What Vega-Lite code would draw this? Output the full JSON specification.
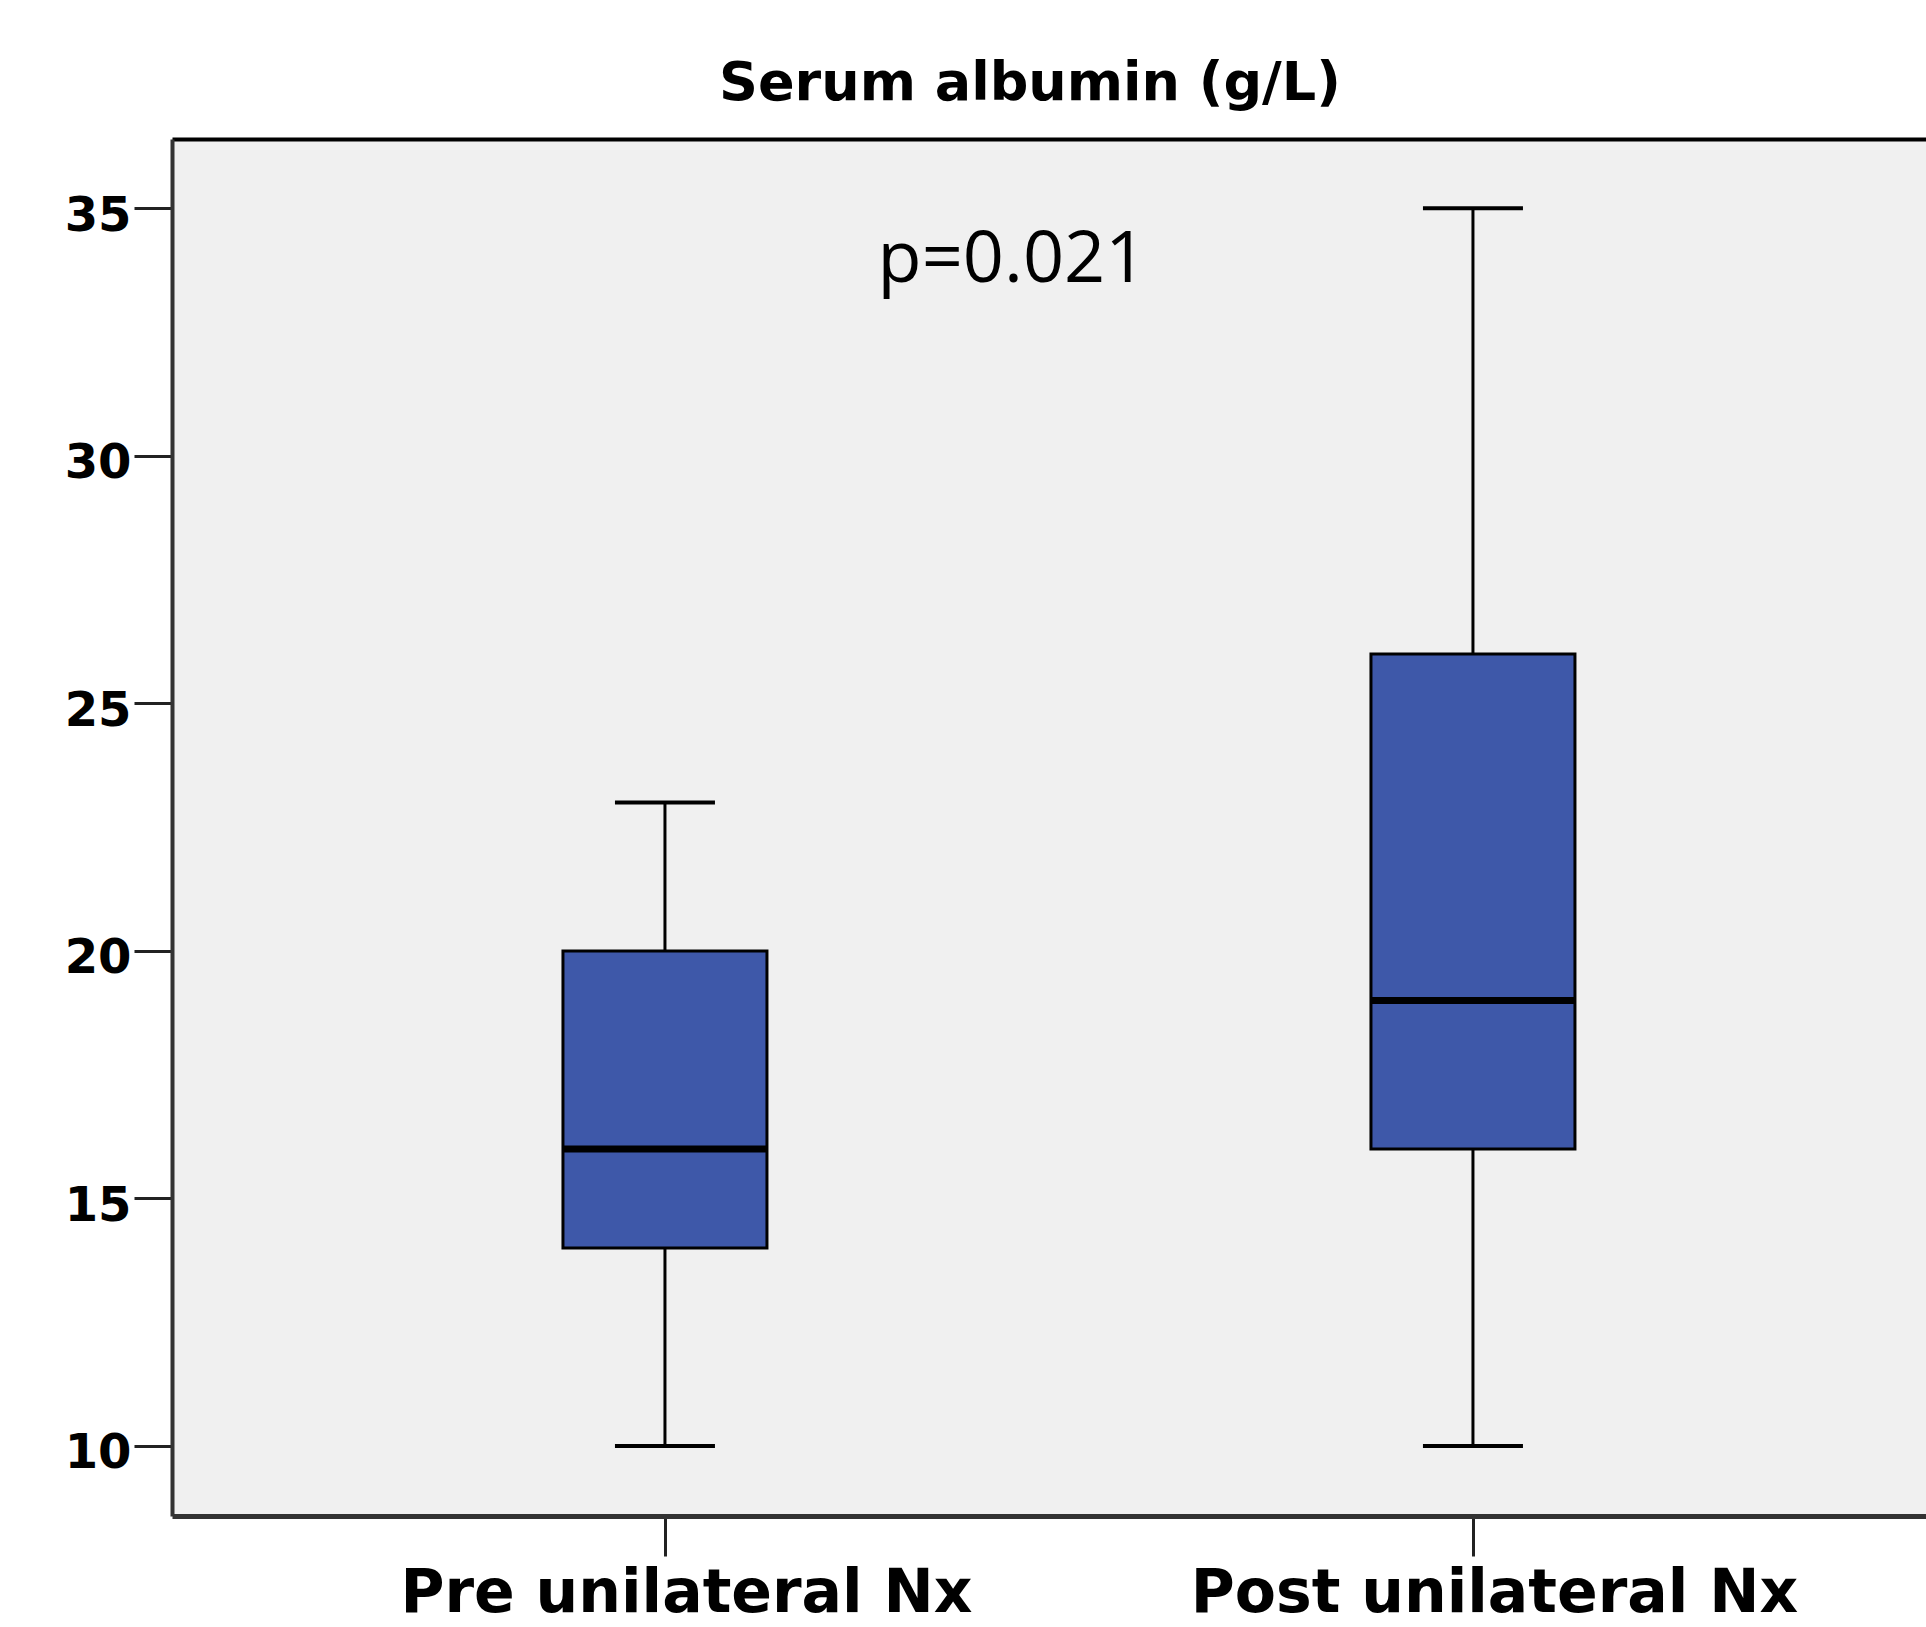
{
  "$schema": "https://vega.github.io/schema/vega-lite/v6.json",
  "autosize": "none",
  "width": 1754,
  "height": 1377,
  "padding": {"left": 172, "top": 139, "right": 0, "bottom": 111},
  "background": "white",
  "config": {"view": {"fill": "#f0f0f0", "stroke": null}},
  "title": {
    "text": "Serum albumin (g/L)",
    "font": "DejaVu Sans",
    "fontWeight": "bold",
    "fontSize": 54,
    "color": "black",
    "anchor": "middle",
    "dx": -19,
    "offset": 28
  },
  "datasets": {
    "boxes": [
      {"group": "Pre unilateral Nx", "lower": 10, "q1": 14, "median": 16, "q3": 20, "upper": 23},
      {"group": "Post unilateral Nx", "lower": 10, "q1": 16, "median": 19, "q3": 26, "upper": 35}
    ],
    "notes": [{"label": "p=0.021", "y": 33.52}]
  },
  "data": {"name": "boxes"},
  "resolve": {"axis": {"x": "independent"}},
  "layer": [
    {
      "mark": {"type": "rule", "color": "black", "strokeWidth": 3},
      "encoding": {
        "x": {
          "field": "group", "type": "nominal",
          "scale": {"type": "point", "domain": ["Pre unilateral Nx", "Post unilateral Nx"], "padding": 0.5854, "align": 0.5211},
          "axis": {
            "title": null, "labelAngle": 0, "orient": "bottom", "labelLimit": 0, "labelOffset": 21,
            "labelFont": "DejaVu Sans", "labelFontWeight": "bold", "labelFontSize": 60, "labelColor": "black",
            "labelPadding": 8, "tickSize": 40, "tickWidth": 3, "tickColor": "#222",
            "domainColor": "#333", "domainWidth": 5, "grid": false
          }
        },
        "y": {
          "field": "lower", "type": "quantitative",
          "scale": {"domain": [8.586, 36.4], "nice": false, "zero": false},
          "axis": {
            "title": null, "values": [10, 15, 20, 25, 30, 35], "grid": false,
            "labelFont": "DejaVu Sans", "labelFontWeight": "bold", "labelFontSize": 48, "labelColor": "black",
            "labelPadding": 3, "labelOffset": 8, "tickSize": 38, "tickWidth": 3, "tickColor": "#222",
            "domainColor": "#333", "domainWidth": 4
          }
        },
        "y2": {"field": "upper"}
      }
    },
    {
      "mark": {"type": "bar", "size": 204, "fill": "#3e58a9", "stroke": "black", "strokeWidth": 3},
      "encoding": {
        "x": {
          "field": "group", "type": "nominal",
          "axis": {"orient": "top", "title": null, "labels": false, "ticks": false, "domainColor": "black", "domainWidth": 4, "grid": false}
        },
        "y": {"field": "q1", "type": "quantitative"},
        "y2": {"field": "q3"}
      }
    },
    {
      "mark": {"type": "tick", "size": 204, "thickness": 7, "color": "black", "opacity": 1},
      "encoding": {
        "x": {"field": "group", "type": "nominal", "axis": null},
        "y": {"field": "median", "type": "quantitative"}
      }
    },
    {
      "mark": {"type": "tick", "size": 100, "thickness": 4, "color": "black", "opacity": 1},
      "encoding": {
        "x": {"field": "group", "type": "nominal", "axis": null},
        "y": {"field": "lower", "type": "quantitative"}
      }
    },
    {
      "mark": {"type": "tick", "size": 100, "thickness": 4, "color": "black", "opacity": 1},
      "encoding": {
        "x": {"field": "group", "type": "nominal", "axis": null},
        "y": {"field": "upper", "type": "quantitative"}
      }
    },
    {
      "data": {"name": "notes"},
      "mark": {"type": "text", "font": "Open Sans", "fontSize": 72, "color": "black", "align": "center", "baseline": "alphabetic", "dx": -37},
      "encoding": {
        "y": {"field": "y", "type": "quantitative"},
        "text": {"field": "label"}
      }
    }
  ]
}
